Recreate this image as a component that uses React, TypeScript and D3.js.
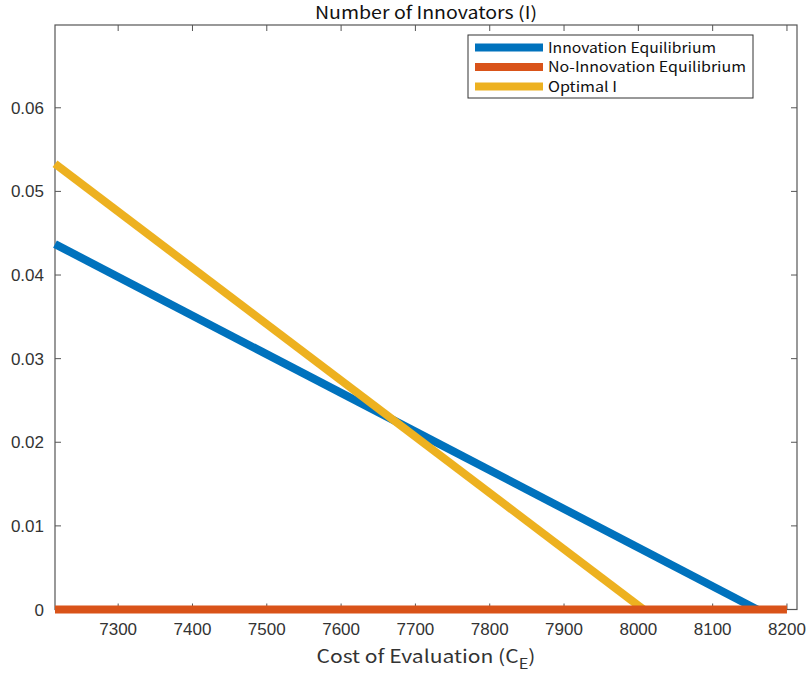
import React from "react";
import * as d3 from "d3";

const xTicks = [7300, 7400, 7500, 7600, 7700, 7800, 7900, 8000, 8100, 8200];
const yTicks = [0, 0.01, 0.02, 0.03, 0.04, 0.05, 0.06];
const innovX = [7215, 8160];
const innovY = [0.0437, 0];
const noInnovX = [7215, 8200];
const noInnovY = [0, 0];
const optimalX = [7215, 8007];
const optimalY = [0.0533, 0];
const seriesNames = ["Innovation Equilibrium", "No-Innovation Equilibrium", "Optimal I"];
const seriesColors = ["#0072BD", "#D95319", "#EDB120"];
const legendWidths = [168, 198, 69];

export default function App() {
  const W = 810, H = 679;
  const left = 55, right = 797, top = 25, bottom = 609.5;
  const x = d3.scaleLinear().domain([7215, 8213.5]).range([left, right]);
  const y = d3.scaleLinear().domain([0, 0.0699]).range([bottom, top]);
  const line = d3.line<[number, number]>().x(d => x(d[0])).y(d => y(d[1]));
  const series = [
    innovX.map((v, i) => [v, innovY[i]] as [number, number]),
    noInnovX.map((v, i) => [v, noInnovY[i]] as [number, number]),
    optimalX.map((v, i) => [v, optimalY[i]] as [number, number]),
  ];
  const axisColor = "#555";
  const textColor = "#333";
  const font = "'Noto Sans CJK JP', 'Noto Sans', sans-serif";
  const tickFont = "'Liberation Sans', Arial, sans-serif";
  const drawOrder = [0, 2, 1];
  return (
    <svg width={W} height={H} style={{ position: "absolute", left: 0, top: 0, background: "#fff" }}>
      <rect x={0} y={0} width={W} height={H} fill="#fff" />
      <rect x={left} y={top} width={right - left} height={bottom - top} fill="none" stroke={axisColor} strokeWidth={1.2} />
      {xTicks.map(t => (
        <g key={"x" + t}>
          <line x1={x(t)} x2={x(t)} y1={bottom} y2={bottom - 6} stroke={axisColor} />
          <line x1={x(t)} x2={x(t)} y1={top} y2={top + 6} stroke={axisColor} />
          <text x={x(t)} y={635} textAnchor="middle" fontSize={17} fill={textColor} fontFamily={tickFont}>{t}</text>
        </g>
      ))}
      {yTicks.map(t => (
        <g key={"y" + t}>
          <line x1={left} x2={left + 6} y1={y(t)} y2={y(t)} stroke={axisColor} />
          <line x1={right} x2={right - 6} y1={y(t)} y2={y(t)} stroke={axisColor} />
          <text x={left - 11} y={y(t) + 6} textAnchor="end" fontSize={17} fill={textColor} fontFamily={tickFont}>{t === 0 ? "0" : t.toFixed(2)}</text>
        </g>
      ))}
      {drawOrder.map(i => (
        <path key={"s" + i} d={line(series[i]) || ""} fill="none" stroke={seriesColors[i]} strokeWidth={8} />
      ))}
      <text x={(left + right) / 2} y={19} textAnchor="middle" fontSize={17} fill="#111" fontFamily={font} textLength={222} lengthAdjust="spacingAndGlyphs">Number of Innovators (I)</text>
      <text x={(left + right) / 2} y={663} textAnchor="middle" fontSize={18} fill={textColor} fontFamily={font} textLength={219} lengthAdjust="spacingAndGlyphs">
        Cost of Evaluation (C<tspan dy={6} fontSize={14}>E</tspan><tspan dy={-6}>)</tspan>
      </text>
      <g>
        <rect x={468} y={35} width={285} height={63} fill="#fff" stroke="#333" strokeWidth={1} />
        {seriesNames.map((n, i) => (
          <g key={"l" + i}>
            <line x1={475} x2={543} y1={47.5 + i * 19.5} y2={47.5 + i * 19.5} stroke={seriesColors[i]} strokeWidth={8} />
            <text x={548} y={52.5 + i * 19.5} fontSize={14} fill="#111" fontFamily={font} textLength={legendWidths[i]} lengthAdjust="spacingAndGlyphs">{n}</text>
          </g>
        ))}
      </g>
    </svg>
  );
}
